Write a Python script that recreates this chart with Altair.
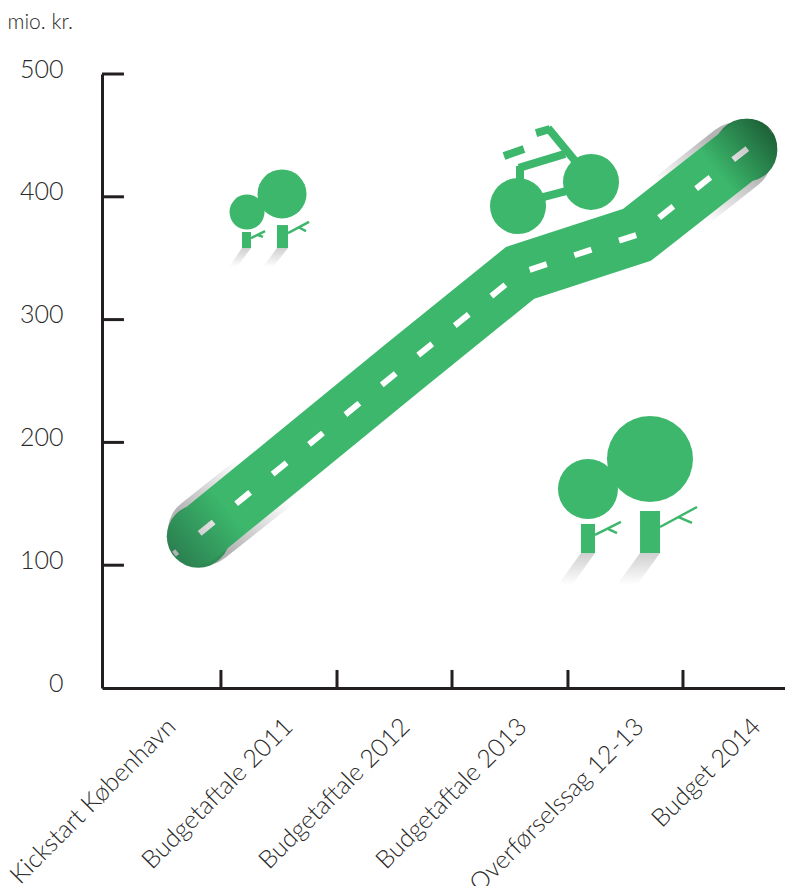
import altair as alt
import pandas as pd

categories = ["Kickstart København", "Budgetaftale 2011", "Budgetaftale 2012",
              "Budgetaftale 2013", "Overførselssag 12-13", "Budget 2014"]
x_ticks = [0.444, 1.436, 2.419, 3.410, 4.393]
y_ticks = [100, 200, 300, 400, 500]

road_x = [0.24, 1, 2, 3, 4, 4.95]
road_y = [124, 183, 261, 338, 369, 440]
dash_x = [0.043, 1, 2, 3, 4, 5.14]
dash_y = [109, 183, 261, 338, 369, 454]

shade_left_x = [0.29, 0.82]
shade_left_y = [128, 168]
shade_right_x = [4.85, 4.37]
shade_right_y = [432, 396]

cap_x = [0.25, 4.93]
cap_y = [123.5, 438]
cap_d = 63

circle_x = [4.111, 3.581, 0.966, 0.667, 2.983, 3.607]
circle_y = [186.5, 162.1, 402.3, 387.6, 392.5, 412.1]
circle_d = [86, 60, 49, 35, 56, 56]

trunk_x = [4.026, 3.521, 0.923, 0.624]
trunk_x2 = [4.197, 3.641, 1.017, 0.701]
trunk_y = [144.1, 133.6, 377.0, 371.3]
trunk_y2 = [109.9, 109.9, 358.3, 358.3]

branch_x = [4.197, 4.350, 3.641, 3.752, 1.017, 1.103, 0.701, 0.761]
branch_y = [131.1, 139.3, 124.6, 129.5, 370.5, 375.4, 366.4, 368.9]
branch_x2 = [4.513, 4.470, 3.863, 3.829, 1.197, 1.171, 0.821, 0.803]
branch_y2 = [147.4, 134.4, 135.2, 126.2, 379.5, 372.1, 372.1, 367.3]

bike_x = [2.863, 3.137, 3.239, 2.991, 3.000, 3.197]
bike_y = [433.2, 451.9, 456.0, 423.5, 425.1, 399.8]
bike_x2 = [3.034, 3.256, 3.479, 3.385, 3.000, 3.393]
bike_y2 = [438.9, 455.2, 428.3, 434.9, 412.1, 404.7]

# tree shadows: id, y, left x, right x
shadow_id = [0, 0, 1, 1, 2, 2, 3, 3]
shadow_y = [109.9, 83.9, 109.9, 83.9, 358.3, 342.8, 358.3, 342.8]
shadow_l = [4.026, 3.829, 3.521, 3.325, 0.923, 0.803, 0.624, 0.513]
shadow_r = [4.197, 4.000, 3.641, 3.444, 1.017, 0.889, 0.701, 0.581]

GREEN = "#3cb76c"
INK = "#231f20"
TEXT = "#2a2a2a"
FONT = "Lato"

xs = alt.Scale(domain=[-0.5726, 5.265], nice=False, zero=False)
ys = alt.Scale(domain=[0, 500], nice=False)
X2 = alt.X2("x2:Q")
Y2 = alt.Y2("y2:Q")

label_expr = "[" + ",".join(f"'{c}'" for c in categories) + "][datum.value]"

X = alt.X("x:Q", scale=xs, axis=alt.Axis(
    values=list(range(6)), labelExpr=label_expr, title=None, ticks=False, grid=False,
    domainColor=INK, domainWidth=3, labelAngle=-45, labelAlign="right", labelBaseline="middle",
    labelFont=FONT, labelFontWeight=300, labelFontSize=25, labelColor=TEXT, labelLimit=500,
    labelPadding=34, labelOffset=2, labelOverlap=False, labelBound=False, labelFlush=False))
Y = alt.Y("y:Q", scale=ys, axis=alt.Axis(
    values=[0, 100, 200, 300, 400, 500], title="mio. kr.", ticks=False, grid=False,
    domainColor=INK, domainWidth=3, labelFont=FONT, labelFontWeight=300, labelFontSize=25,
    labelColor=TEXT, labelPadding=39, labelOffset=-5,
    titleAngle=0, titleX=-95, titleY=-42, titleAlign="left", titleFont=FONT,
    titleFontWeight=300, titleFontSize=21, titleColor=TEXT))


def seg(xa, ya, xb, yb):
    return pd.DataFrame({"x": xa, "y": ya, "x2": xb, "y2": yb})


x_tick_layer = alt.Chart(seg(x_ticks, [0] * 5, x_ticks, [14.7] * 5)).mark_rule(
    color=INK, strokeWidth=3).encode(y2=Y2)
y_tick_layer = alt.Chart(seg([-0.5726] * 5, y_ticks, [-0.385] * 5, y_ticks)).mark_rule(
    color=INK, strokeWidth=3).encode(x2=X2)


def grad(stops, x1=0.0, y1=1.0, x2=1.0, y2=0.0):
    return alt.Gradient(gradient="linear", x1=x1, y1=y1, x2=x2, y2=y2,
                        stops=[alt.GradientStop(offset=o, color=c) for o, c in stops])


def shade(xv, yv):
    d = pd.DataFrame({"x": xv, "y": yv, "o": [0, 1]})
    return alt.Chart(d).mark_line(
        strokeWidth=70, strokeCap="round",
        stroke=grad([(0, "#b4b4b4"), (1, "#ffffff")],
                    x1=0 if xv[0] < xv[1] else 1, y1=1 if yv[0] < yv[1] else 0,
                    x2=1 if xv[0] < xv[1] else 0, y2=0 if yv[0] < yv[1] else 1),
    ).encode(order="o:O")


def cap(i, stops):
    return alt.Chart(pd.DataFrame({"x": [cap_x[i]], "y": [cap_y[i]]})).mark_point(
        shape="circle", size=cap_d * cap_d, filled=True, opacity=1, strokeWidth=0,
        fill=grad(stops))


road_df = pd.DataFrame({"x": road_x, "y": road_y, "o": range(6)})
road = alt.Chart(road_df).mark_line(
    strokeWidth=58, strokeCap="round", strokeJoin="miter",
    stroke=grad([(0, "#2a7d4e"), (0.10, GREEN), (0.90, GREEN), (1, "#1a5a32")],
                x1=-0.059, y1=1.034, x2=1.244, y2=0.282),
).encode(order="o:O")

dash_df = pd.DataFrame({"x": dash_x, "y": dash_y, "o": range(6)})
dash = alt.Chart(dash_df).mark_line(
    strokeWidth=6, strokeDash=[18, 29], strokeDashOffset=14, strokeCap="butt",
    stroke=grad([(0, "#b0b0b0"), (0.07, "#e2e2e2"), (0.12, "#ffffff"),
                 (0.88, "#ffffff"), (0.93, "#e0e0e0"), (1, "#a8a8a8")],
                x1=0, y1=1, x2=1.185, y2=0.316),
).encode(order="o:O")

shadow_df = pd.DataFrame({"id": shadow_id, "y": shadow_y, "x": shadow_l, "x2": shadow_r})
shadows = [
    alt.Chart(shadow_df[shadow_df["id"] == i])
    .mark_area(orient="horizontal",
               fill=grad([(0, "#cfcfcf"), (1, "#ffffff")], x1=0, y1=0, x2=0, y2=1))
    .encode(x2=X2)
    for i in range(4)
]

crowns = alt.Chart(pd.DataFrame({"x": circle_x, "y": circle_y,
                                 "s": [d * d for d in circle_d]})).mark_point(
    shape="circle", filled=True, color=GREEN, opacity=1, strokeWidth=0).encode(
    size=alt.Size("s:Q", scale=None, legend=None))

trunks = alt.Chart(pd.DataFrame({"x": trunk_x, "x2": trunk_x2, "y": trunk_y, "y2": trunk_y2})).mark_rect(
    color=GREEN).encode(x2=X2, y2=Y2)

branches = alt.Chart(seg(branch_x, branch_y, branch_x2, branch_y2)).mark_rule(
    color=GREEN, strokeWidth=2.5).encode(x2=X2, y2=Y2)
bike = alt.Chart(seg(bike_x, bike_y, bike_x2, bike_y2)).mark_rule(
    color=GREEN, strokeWidth=8).encode(x2=X2, y2=Y2)

chart = alt.layer(
    shade(shade_left_x, shade_left_y), shade(shade_right_x, shade_right_y),
    cap(0, [(0, "#2a7d4e"), (0.6, "#33935a"), (1, GREEN)]),
    cap(1, [(0, GREEN), (0.4, "#2f8a54"), (1, "#1a5a32")]),
    road, dash, *shadows, crowns, trunks, branches, bike,
    x_tick_layer, y_tick_layer,
).encode(x=X, y=Y).properties(
    width=683, height=614,
    background="white",
    autosize=alt.AutoSizeParams(type="none"),
    padding={"left": 94, "top": 66, "right": 0, "bottom": 198},
).configure_view(stroke=None)

chart.save("out.html", embed_options={"renderer": "svg", "actions": False})
